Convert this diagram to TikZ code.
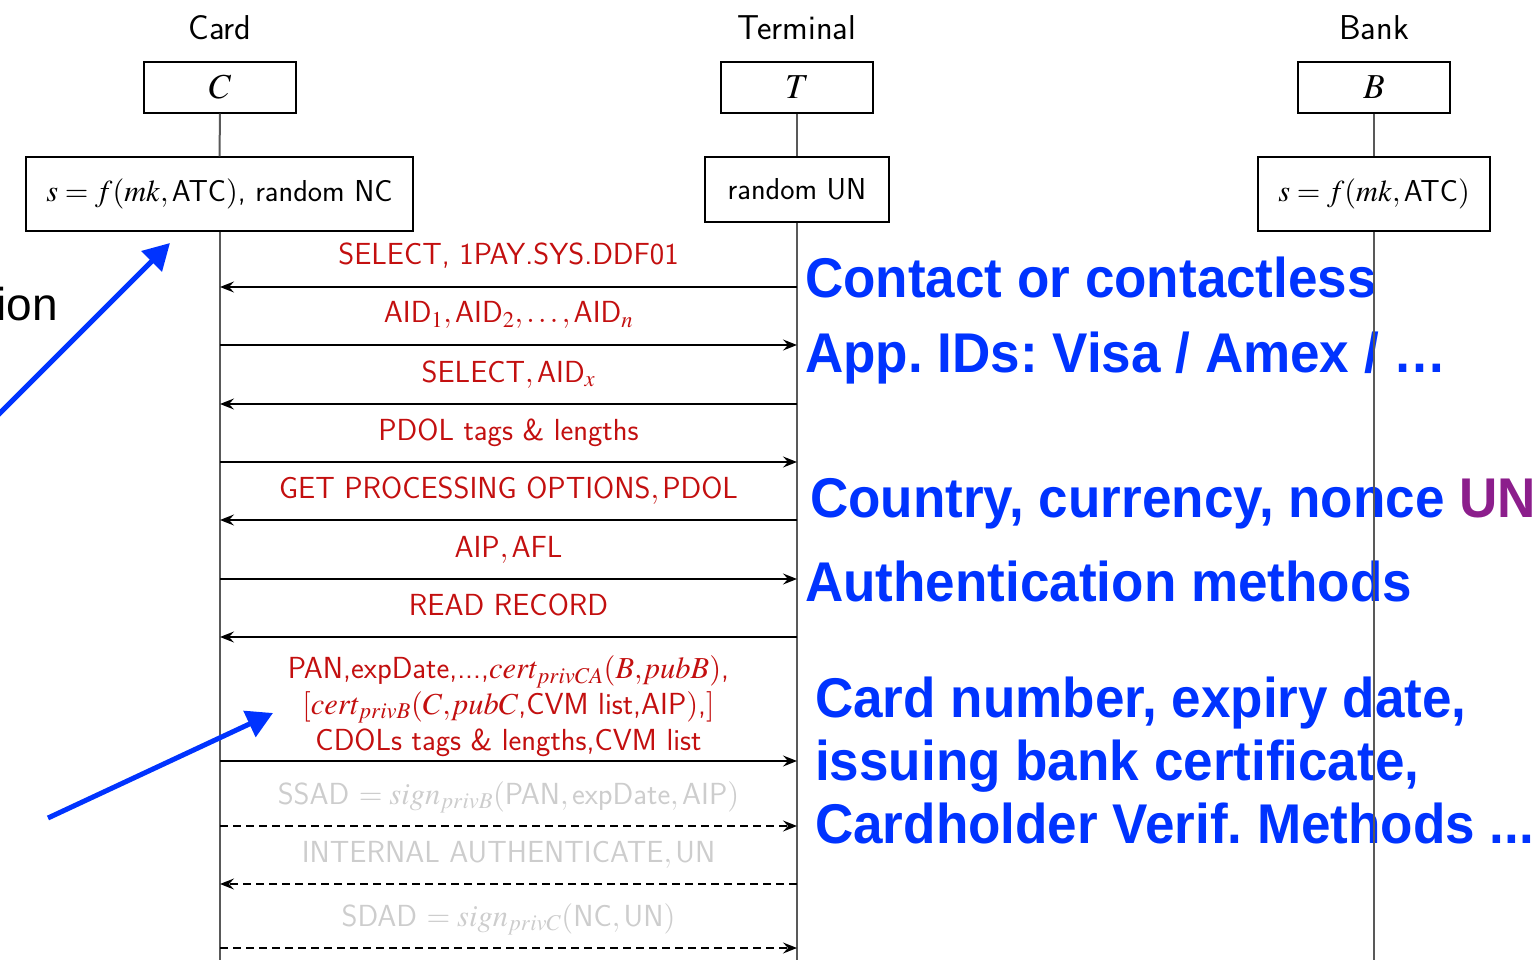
\documentclass[tikz,border=0pt]{standalone}
\usepackage{amsmath}
\usepackage{mathptmx}
\usepackage{fontspec}
\newfontfamily\bluefont[FakeStretch=0.947]{Liberation Sans}
\newfontfamily\ionfont{Liberation Sans}
\usetikzlibrary{arrows.meta}
\definecolor{myred}{RGB}{195,15,15}
\definecolor{mygray}{RGB}{205,205,205}
\definecolor{myblue}{RGB}{0,51,255}
\definecolor{mypurple}{RGB}{140,30,140}
\begin{document}
\frenchspacing
\begin{tikzpicture}[x=1pt,y=-1pt,
  hdr/.style={font=\sffamily\fontsize{34.5}{40}\selectfont, inner sep=0},
  pbox/.style={draw, line width=1.4pt, minimum width=152pt, minimum height=51pt, inner sep=0, font=\fontsize{35}{40}\selectfont},
  sbox/.style={draw, line width=1.4pt, inner sep=0, font=\sffamily\fontsize{30.3}{36}\selectfont},
  life/.style={draw=black!65, line width=2pt},
  msg/.style={line width=1.5pt, -{Stealth[length=14pt,width=11pt,inset=5pt]}},
  dmsg/.style={msg, dash pattern=on 8pt off 5pt},
  lbl/.style={midway, anchor=base, yshift=22pt, inner sep=0, text=myred, font=\sffamily\fontsize{30.5}{35.7}\selectfont},
  glbl/.style={lbl, text=mygray},
  bt/.style={anchor=base west, inner sep=0, text=myblue, font=\bluefont\bfseries\fontsize{56}{60}\selectfont},
  barrow/.style={draw=myblue, line width=5pt, -{Triangle[length=26pt,width=28pt]}}
]
\useasboundingbox (0,0) rectangle (1532,960);

% participants
\node[hdr] (cardh) at (220,28) {Card};
\node[hdr] (termh) at (797,28) {Terminal};
\node[hdr] (bankh) at (1374,28) {Bank};
\node[pbox] (C) at (220,87.5) {$C$};
\node[pbox] (T) at (797,87.5) {$T$};
\node[pbox] (B) at (1374,87.5) {$B$};
\node[sbox, minimum width=387pt, minimum height=74pt] (Cs) at (219.5,194) {$s=f(mk,\text{ATC})$, random NC};
\node[sbox, minimum width=184pt, minimum height=65pt] (Ts) at (797,189.5) {random UN};
\node[sbox, minimum width=232pt, minimum height=74pt] (Bs) at (1374,194) {$s=f(mk,\text{ATC})$};

% blue annotations
\node[bt] (b1) at (805,298) {Contact or contactless};
\node[bt] (b2) at (805,372) {App. IDs: Visa / Amex / …};
\node[bt] (b3) at (810,517) {Country, currency, nonce \textcolor{mypurple}{UN}};
\node[bt] (b4) at (805,601) {Authentication methods};
\node[bt] (b5) at (815,717) {Card number, expiry date,};
\node[bt] (b6) at (815,780) {issuing bank certificate,};
\node[bt] (b7) at (815,843) {Cardholder Verif. Methods ...};
\node[anchor=base east, inner sep=0, font=\ionfont\fontsize{46}{50}\selectfont] (ion) at (58,320) {ion};

% lifelines
\coordinate (Cend) at (220,960);
\coordinate (Tend) at (797,960);
\coordinate (Bend) at (1374,960);
\draw[life] (C.south) -- (Cs.north);
\draw[life] (T.south) -- (Ts.north);
\draw[life] (B.south) -- (Bs.north);
\draw[life] (Cs.south -| Cend) -- (Cend);
\draw[life] (Ts.south) -- (Tend);
\draw[life] (Bs.south) -- (Bend);

% message points
\foreach \i/\y in {1/287,2/345,3/404,4/462,5/520,6/579,7/637,8/761,9/826,10/884,11/948}{
  \coordinate (c\i) at (220,\y);
  \coordinate (t\i) at (797,\y);
}

\draw[msg] (t1) -- node[lbl]{SELECT, 1PAY.SYS.DDF01} (c1);
\draw[msg] (c2) -- node[lbl]{$\text{AID}_1,\text{AID}_2,\ldots,\text{AID}_n$} (t2);
\draw[msg] (t3) -- node[lbl]{$\text{SELECT},\text{AID}_x$} (c3);
\draw[msg] (c4) -- node[lbl]{PDOL tags \& lengths} (t4);
\draw[msg] (t5) -- node[lbl]{$\text{GET PROCESSING OPTIONS},\text{PDOL}$} (c5);
\draw[msg] (c6) -- node[lbl]{$\text{AIP},\text{AFL}$} (t6);
\draw[msg] (t7) -- node[lbl]{READ RECORD} (c7);
\draw[msg] (c8) -- node[lbl, anchor=south, yshift=-18pt, align=center]{PAN,expDate,...,$cert_{privCA}(B,\!pubB)$,\\$[cert_{privB}(C,\!pubC$,CVM list,AIP$)$,$]$\\CDOLs tags \& lengths,CVM list} (t8);
\draw[dmsg] (c9) -- node[glbl]{SSAD $=sign_{privB}(\text{PAN},\text{expDate},\text{AIP})$} (t9);
\draw[dmsg] (t10) -- node[glbl]{$\text{INTERNAL AUTHENTICATE},\text{UN}$} (c10);
\draw[dmsg] (c11) -- node[glbl]{SDAD $=sign_{privC}(\text{NC},\text{UN})$} (t11);

% blue arrows
\coordinate (a1s) at (-3,416);
\coordinate (a1e) at (170,243);
\coordinate (a2s) at (48,818);
\coordinate (a2e) at (273,713);
\draw[barrow] (a1s) -- (a1e);
\draw[barrow] (a2s) -- (a2e);
\end{tikzpicture}
\end{document}
